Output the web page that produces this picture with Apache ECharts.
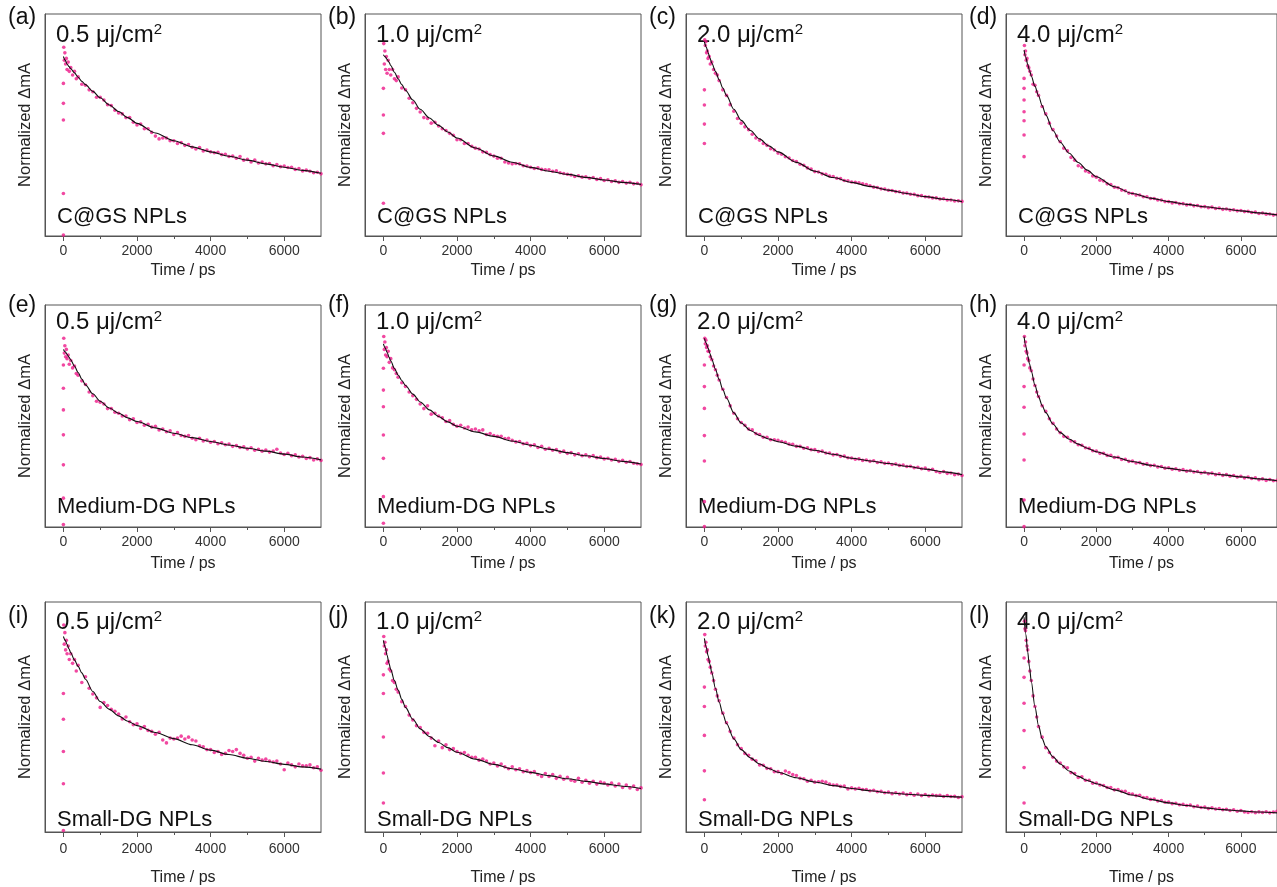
<!DOCTYPE html>
<html>
<head>
<meta charset="utf-8">
<script src="https://cdn.jsdelivr.net/npm/echarts@6/dist/echarts.min.js"></script>
<style>
  html, body { margin: 0; padding: 0; background: #fff; }
  #chart { width: 1277px; height: 887px; }
</style>
</head>
<body>
<div id="chart"></div>
<script>
// delay times (ps) shared by all scatter traces
var delays = [10, 25, 40, 60, 80, 100, 130, 160, 200, 250, 300, 350, 400, 500, 600, 700, 800, 900,
  1000, 1100, 1200, 1300, 1400, 1500, 1600, 1700, 1800, 1900,
  2000, 2100, 2200, 2300, 2400, 2500, 2600, 2700, 2800, 2900,
  3000, 3100, 3200, 3300, 3400, 3500, 3600, 3700, 3800, 3900,
  4000, 4100, 4200, 4300, 4400, 4500, 4600, 4700, 4800, 4900,
  5000, 5100, 5200, 5300, 5400, 5500, 5600, 5700, 5800, 5900,
  6000, 6100, 6200, 6300, 6400, 6500, 6600, 6700, 6800, 6900,
  7000];
// times where the fitted curves are read
var fitTimes = [0, 50, 100, 150, 200, 300, 400, 500, 600, 800, 1000, 1250, 1500, 1750, 2000,
  2500, 3000, 3500, 4000, 4500, 5000, 5500, 6000, 6500, 7000];
var xTicks = [0, 2000, 4000, 6000];
var xMinorTicks = [1000, 3000, 5000];

var powers = ['0.5', '1.0', '2.0', '4.0'];
var samples = ['C@GS NPLs', 'Medium-DG NPLs', 'Small-DG NPLs'];
var letters = ['a', 'b', 'c', 'd', 'e', 'f', 'g', 'h', 'i', 'j', 'k', 'l'];

// ---- measured traces (normalized) ----
var decayA = [1.02,0.95,0.99,0.93,0.96,0.90,0.94,0.89,0.91,0.87,0.89,0.85,0.86,0.82,0.815,0.79,0.78,0.75,
  .75,.735,.71,.705,.68,.665,.66,.64,.64,.615,
  .60,.605,.58,.58,.56,.54,.525,.53,.53,.515,
  .515,.50,.505,.49,.495,.48,.47,.478,.46,.465,
  .455,.45,.452,.44,.442,.43,.432,.42,.43,.41,
  .414,.40,.41,.395,.40,.39,.392,.38,.386,.375,
  .378,.37,.372,.36,.365,.352,.356,.35,.342,.345,
  .336];
var decayB = [1.04,0.93,1.0,0.90,0.97,0.88,0.95,0.90,0.87,0.90,0.85,0.84,0.86,0.80,0.79,0.745,0.72,0.69,
  .67,.64,.635,.61,.615,.595,.58,.57,.555,.545,
  .52,.52,.50,.50,.485,.475,.47,.455,.452,.44,
  .432,.42,.42,.40,.395,.39,.392,.39,.38,.378,
  .372,.365,.368,.36,.358,.358,.35,.352,.342,.338,
  .334,.33,.322,.326,.318,.32,.312,.316,.306,.31,
  .30,.304,.295,.298,.29,.294,.286,.29,.282,.285,
  .277];
var decayC = [1.06,1.03,1.05,0.99,1.0,0.96,0.97,0.93,0.94,0.90,0.88,0.87,0.84,0.79,0.76,0.71,0.675,0.635,
  .61,.59,.575,.55,.53,.518,.50,.49,.472,.465,
  .448,.442,.428,.422,.408,.402,.388,.382,.368,.362,
  .348,.346,.336,.334,.324,.322,.312,.31,.30,.298,
  .292,.29,.288,.282,.278,.272,.264,.262,.255,.254,
  .247,.246,.24,.239,.232,.232,.226,.225,.218,.218,
  .212,.211,.206,.206,.20,.201,.195,.195,.189,.19,
  .187];
var decayD = [1.03,0.98,1.0,0.95,0.96,0.92,0.91,0.89,0.87,0.82,0.815,0.78,0.76,0.70,0.66,0.61,0.575,0.54,
  .51,.475,.46,.425,.41,.38,.372,.352,.345,.325,
  .318,.302,.297,.282,.278,.264,.261,.248,.245,.232,
  .23,.221,.222,.212,.212,.203,.203,.195,.194,.186,
  .186,.179,.181,.174,.175,.168,.17,.163,.165,.158,
  .159,.153,.156,.149,.151,.144,.146,.14,.142,.136,
  .138,.132,.133,.127,.129,.122,.124,.118,.119,.113,
  .115];
var decayE = [1.02,0.94,0.98,0.92,0.96,0.91,0.93,0.88,0.90,0.86,0.87,0.83,0.82,0.79,0.77,0.73,0.71,0.68,
  .675,.665,.64,.64,.62,.615,.60,.60,.58,.585,
  .565,.568,.55,.555,.54,.545,.525,.53,.515,.52,
  .50,.51,.495,.49,.495,.48,.472,.48,.465,.47,
  .458,.462,.45,.455,.445,.448,.436,.44,.43,.434,
  .422,.428,.415,.42,.41,.416,.405,.41,.42,.40,
  .392,.398,.385,.39,.378,.382,.37,.375,.362,.368,
  .36];
var decayF = [1.03,0.96,1.0,0.93,0.97,0.92,0.95,0.89,0.91,0.86,0.85,0.83,0.81,0.78,0.76,0.73,0.71,0.69,
  .665,.64,.655,.61,.615,.60,.59,.57,.575,.555,
  .545,.55,.535,.54,.525,.53,.52,.525,.50,.505,
  .495,.49,.49,.478,.48,.468,.46,.462,.45,.452,
  .44,.444,.43,.436,.42,.425,.415,.418,.405,.41,
  .398,.402,.39,.396,.385,.39,.38,.386,.375,.378,
  .368,.372,.362,.366,.355,.36,.35,.354,.345,.342,
  .338];
var decayG = [1.02,0.99,1.01,0.97,0.98,0.95,0.95,0.92,0.905,0.87,0.85,0.82,0.795,0.745,0.70,0.655,0.615,0.585,
  .565,.55,.53,.525,.505,.50,.485,.485,.472,.472,
  .468,.462,.458,.448,.447,.436,.436,.426,.428,.418,
  .418,.408,.41,.40,.40,.39,.392,.382,.383,.374,
  .373,.366,.368,.36,.362,.355,.358,.349,.352,.344,
  .346,.338,.34,.333,.335,.327,.328,.32,.323,.315,
  .318,.308,.312,.30,.295,.30,.29,.292,.283,.286,
  .278];
var decayH = [1.03,0.98,1.0,0.95,0.94,0.91,0.90,0.86,0.845,0.80,0.765,0.73,0.705,0.655,0.625,0.585,0.56,0.53,
  .51,.49,.485,.465,.46,.445,.442,.428,.425,.412,
  .41,.398,.398,.387,.388,.376,.377,.365,.366,.355,
  .356,.346,.348,.339,.341,.332,.334,.325,.327,.318,
  .32,.312,.315,.307,.31,.302,.305,.297,.30,.292,
  .296,.288,.291,.283,.287,.279,.283,.275,.278,.27,
  .274,.265,.27,.262,.266,.256,.26,.252,.257,.25,
  .252];
var decayI = [1.08,0.98,1.04,0.95,1.0,0.93,0.97,0.90,0.93,0.88,0.90,0.84,0.87,0.78,0.81,0.75,0.72,0.70,
  .65,.675,.66,.64,.63,.615,.59,.60,.575,.56,
  .565,.54,.55,.53,.525,.51,.52,.48,.465,.49,
  .485,.49,.50,.485,.495,.48,.475,.45,.445,.43,
  .43,.415,.42,.405,.41,.425,.42,.43,.41,.40,
  .385,.39,.37,.385,.375,.38,.37,.365,.37,.355,
  .325,.36,.35,.34,.355,.345,.345,.35,.335,.34,
  .322];
var decayJ = [1.02,0.97,0.99,0.93,0.95,0.88,0.89,0.85,0.84,0.79,0.78,0.745,0.73,0.68,0.655,0.61,0.585,0.555,
  .545,.52,.515,.49,.45,.475,.44,.455,.43,.435,
  .42,.41,.415,.40,.39,.39,.375,.38,.37,.355,
  .36,.345,.355,.34,.33,.34,.325,.33,.315,.32,
  .31,.315,.30,.29,.305,.29,.30,.28,.29,.275,
  .285,.27,.265,.28,.26,.27,.255,.265,.25,.26,
  .255,.245,.255,.24,.25,.232,.245,.23,.24,.222,
  .23];
var decayK = [1.03,0.97,0.99,0.94,0.95,0.90,0.89,0.86,0.83,0.79,0.745,0.71,0.685,0.62,0.57,0.525,0.49,0.455,
  .435,.41,.40,.38,.372,.35,.348,.332,.33,.315,
  .315,.305,.318,.31,.30,.295,.28,.278,.265,.27,
  .26,.262,.265,.26,.25,.245,.245,.238,.24,.225,
  .23,.225,.228,.222,.222,.215,.218,.21,.212,.205,
  .208,.20,.205,.198,.203,.195,.20,.192,.198,.19,
  .196,.188,.193,.19,.192,.185,.19,.185,.186,.18,
  .184];
var decayL = [1.10,1.06,1.05,1.0,0.97,0.95,0.89,0.84,0.79,0.71,0.655,0.60,0.55,0.495,0.44,0.415,0.39,0.37,
  .36,.34,.335,.31,.305,.285,.288,.27,.27,.255,
  .256,.245,.243,.232,.232,.22,.222,.212,.212,.20,
  .198,.19,.192,.18,.18,.17,.172,.162,.164,.155,
  .156,.148,.15,.142,.144,.138,.14,.132,.135,.128,
  .13,.122,.126,.12,.122,.116,.119,.112,.116,.108,
  .112,.104,.102,.106,.101,.105,.102,.106,.10,.104,
  .108];

// points on the rising edge (all at time zero)
var riseA = [0.005, 0.23, 0.627, 0.717, 0.825];
var riseB = [0.177, 0.555, 0.654, 0.798];
var riseC = [0.5, 0.605, 0.708, 0.79];
var riseD = [0.429, 0.546, 0.623, 0.672, 0.735, 0.798, 0.852];
var riseE = [0.013, 0.156, 0.336, 0.498, 0.633, 0.75, 0.876];
var riseF = [0.02, 0.164, 0.371, 0.497, 0.65, 0.74, 0.858];
var riseG = [0.002, 0.137, 0.357, 0.494, 0.641, 0.759, 0.876];
var riseH = [0.002, 0.146, 0.362, 0.503, 0.647, 0.759, 0.876];
var riseI = [0.008, 0.252, 0.42, 0.588, 0.723];
var riseJ = [0.151, 0.308, 0.496, 0.723, 0.82];
var riseK = [0.168, 0.319, 0.504, 0.655, 0.756];
var riseL = [0.151, 0.336, 0.529, 0.672, 0.807, 0.908];

// fitted curves read at fitTimes
var fitA = [.97,.95,.93,.916,.904,.882,.858,.836,.818,.782,.747,.708,.673,.64,.609,.557,.515,.482,.455,.431,.41,.39,.372,.355,.339];
var fitB = [.98,.968,.955,.94,.922,.885,.85,.818,.788,.735,.685,.638,.598,.562,.53,.476,.433,.399,.371,.35,.333,.317,.303,.29,.279];
var fitC = [1.05,1.022,.992,.963,.935,.89,.845,.80,.76,.685,.625,.57,.525,.487,.455,.398,.35,.316,.29,.268,.248,.23,.213,.199,.186];
var fitD = [1.005,.965,.928,.895,.865,.81,.758,.705,.655,.57,.507,.447,.397,.356,.32,.266,.23,.205,.186,.171,.158,.147,.136,.125,.114];
var fitE = [.96,.947,.933,.918,.903,.87,.835,.80,.768,.72,.68,.643,.615,.59,.57,.536,.507,.483,.462,.443,.426,.41,.394,.378,.363];
var fitF = [.99,.968,.945,.92,.897,.857,.822,.792,.765,.718,.676,.633,.597,.568,.545,.514,.49,.465,.442,.421,.402,.385,.37,.355,.341];
var fitG = [1.02,.995,.967,.937,.907,.853,.797,.743,.697,.617,.562,.522,.495,.476,.461,.437,.415,.393,.372,.357,.343,.328,.313,.298,.283];
var fitH = [1.03,.976,.927,.882,.842,.767,.705,.657,.618,.557,.51,.475,.448,.426,.407,.378,.354,.334,.317,.304,.293,.282,.271,.26,.25];
var fitI = [1.02,1.0,.978,.956,.935,.898,.864,.83,.797,.733,.681,.64,.606,.578,.555,.519,.487,.455,.427,.404,.385,.368,.353,.34,.328];
var fitJ = [1.0,.965,.922,.882,.847,.79,.74,.692,.65,.588,.538,.498,.467,.44,.416,.38,.353,.33,.311,.294,.278,.264,.251,.239,.227];
var fitK = [1.01,.965,.92,.875,.832,.75,.678,.617,.566,.486,.43,.387,.355,.331,.312,.283,.261,.242,.227,.215,.205,.197,.191,.186,.182];
var fitL = [1.12,1.03,.94,.86,.785,.655,.555,.487,.445,.392,.355,.318,.29,.269,.252,.22,.193,.17,.152,.138,.126,.117,.11,.104,.10];

var decays = [decayA, decayB, decayC, decayD, decayE, decayF, decayG, decayH, decayI, decayJ, decayK, decayL];
var rises = [riseA, riseB, riseC, riseD, riseE, riseF, riseG, riseH, riseI, riseJ, riseK, riseL];
var fits = [fitA, fitB, fitC, fitD, fitE, fitF, fitG, fitH, fitI, fitJ, fitK, fitL];

// layout
var FONT = '"Liberation Sans", Arial, sans-serif';
var colLeft = [45, 365, 686, 1006];
var plotW = 276;
var rowBox = [
  { top: 14, h: 222, letterY: 18, powerY: 35, sampleY: 217, labelMargin: 8, nameGap: 27 },
  { top: 305, h: 222, letterY: 306, powerY: 322, sampleY: 507, labelMargin: 8, nameGap: 29 },
  { top: 602, h: 238, letterY: 617, powerY: 622, sampleY: 820, labelMargin: 10, nameGap: 38 }
];
var axisColor = '#555';
var dotColor = '#ee1a8a';

var grids = [], xAxes = [], xMinor = [], yAxes = [], series = [], texts = [];

for (var r = 0; r < 3; r++) {
  for (var c = 0; c < 4; c++) {
    var k = r * 4 + c;
    var rb = rowBox[r];
    grids.push({
      left: colLeft[c], top: rb.top, width: plotW, height: rb.h,
      show: true, borderColor: axisColor, borderWidth: 1, backgroundColor: 'transparent'
    });
    xAxes.push({
      gridIndex: k, type: 'value', min: -500, max: 7000,
      axisLine: { show: true, onZero: false, lineStyle: { color: axisColor, width: 1 } },
      axisTick: { show: true, length: 5, customValues: xTicks, lineStyle: { color: axisColor } },
      axisLabel: { customValues: xTicks, fontSize: 14, color: '#333', margin: rb.labelMargin, fontFamily: FONT,
        formatter: function (v) { return String(v); } },
      splitLine: { show: false },
      name: 'Time / ps', nameLocation: 'middle', nameGap: rb.nameGap,
      nameTextStyle: { fontSize: 16, color: '#222', fontFamily: FONT }
    });
    xMinor.push({
      gridIndex: k, type: 'value', min: -500, max: 7000, position: 'bottom',
      axisLine: { show: false, onZero: false },
      axisTick: { show: true, length: 3, customValues: xMinorTicks, lineStyle: { color: axisColor } },
      axisLabel: { show: false },
      splitLine: { show: false }
    });
    yAxes.push({
      gridIndex: k, type: 'value', min: 0, max: 1.2,
      axisLine: { show: true, onZero: false, lineStyle: { color: axisColor, width: 1 } },
      axisTick: { show: false }, axisLabel: { show: false }, splitLine: { show: false },
      name: 'Normalized ΔmA', nameLocation: 'middle', nameGap: 11,
      nameTextStyle: { fontSize: 16.5, color: '#222', fontFamily: FONT }
    });

    var pts = rises[k].map(function (v) { return [0, v]; });
    var d = decays[k];
    for (var i = 0; i < delays.length; i++) pts.push([delays[i], d[i]]);
    series.push({
      type: 'scatter', xAxisIndex: k, yAxisIndex: k, data: pts,
      symbolSize: 3.6, itemStyle: { color: dotColor }, silent: true, clip: true, z: 2
    });
    var f = fits[k];
    series.push({
      type: 'line', xAxisIndex: k, yAxisIndex: k,
      data: fitTimes.map(function (t, j) { return [t, f[j]]; }),
      smooth: 0.3, smoothMonotone: 'x', symbol: 'none', silent: true,
      lineStyle: { color: '#111', width: 1.1 }, z: 3
    });

    texts.push({
      type: 'text', x: colLeft[c] - 37, y: rb.letterY,
      style: { text: '(' + letters[k] + ')', font: '23px ' + FONT, fill: '#111',
        textAlign: 'left', textVerticalAlign: 'middle', align: 'left', verticalAlign: 'middle' }
    });
    texts.push({
      type: 'text', x: colLeft[c] + 11, y: rb.powerY,
      style: {
        text: powers[c] + ' μj/cm{s|2}', fontSize: 24, fontFamily: FONT, fill: '#111',
        rich: { s: { fontSize: 15, fontFamily: FONT, fill: '#111', verticalAlign: 'top', lineHeight: 26 } },
        textAlign: 'left', textVerticalAlign: 'middle', align: 'left', verticalAlign: 'middle'
      }
    });
    texts.push({
      type: 'text', x: colLeft[c] + 12, y: rb.sampleY,
      style: { text: samples[r], font: '22px ' + FONT, fill: '#111',
        textAlign: 'left', textVerticalAlign: 'middle', align: 'left', verticalAlign: 'middle' }
    });
  }
}

var chart = echarts.init(document.getElementById('chart'), null, { renderer: 'canvas' });
chart.setOption({
  animation: false,
  backgroundColor: '#fff',
  grid: grids,
  xAxis: xAxes.concat(xMinor),
  yAxis: yAxes,
  series: series,
  graphic: { elements: texts }
});
</script>
</body>
</html>
